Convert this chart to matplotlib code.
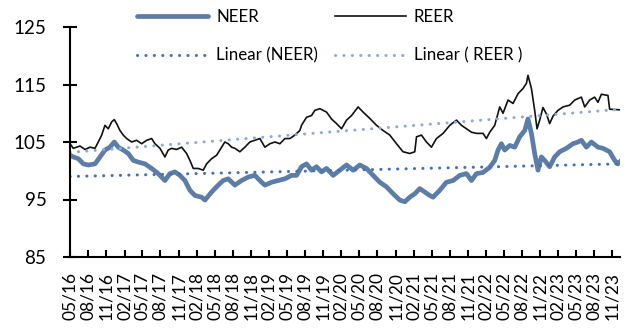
import numpy as np
import pandas as pd
import matplotlib
matplotlib.use("Agg")
import matplotlib.pyplot as plt
import matplotlib.dates as mdates

# ---------------- data (months since May 2016, index values) ----------------
reer_month = [0.0, 0.55, 1.66, 2.49, 3.32, 4.15, 4.69, 5.26, 5.80, 6.35, 6.92, 7.35, 7.74,
              8.29, 8.84, 9.40, 10.23, 11.06, 11.89, 12.72, 13.55, 14.10, 14.93, 15.75,
              16.30, 16.87, 17.69, 18.52, 19.35, 19.90, 20.45, 21.28, 22.11, 22.67, 23.50,
              24.33, 25.16, 25.70, 26.25, 26.82, 27.36, 28.19, 29.02, 29.85, 30.68, 31.51,
              32.34, 33.17, 34.00, 34.83, 35.66, 36.48, 37.31, 38.14, 38.42, 39.25, 40.08,
              40.63, 41.46, 42.01, 42.57, 43.40, 44.23, 45.06, 45.89, 46.72, 47.81, 48.64,
              49.75, 50.86, 51.96, 53.07, 54.18, 55.27, 56.38, 57.21, 57.50, 58.32, 59.15,
              59.98, 60.81, 61.91, 63.02, 64.13, 64.96, 65.79, 66.62, 67.45, 68.54, 69.10,
              69.65, 70.48, 71.31, 71.86, 72.69, 73.52, 74.35, 75.17, 75.74, 76.00, 76.57,
              77.11, 77.50, 77.94, 78.49, 79.05, 79.60, 80.15, 80.98, 81.81, 82.92, 83.75,
              84.86, 85.41, 86.24, 87.06, 87.61, 88.18, 89.27, 89.55, 91.21]
reer = [104.7, 103.9, 104.3, 103.7, 104.1, 103.9, 105.0, 106.2, 107.9, 107.3, 108.5, 108.9, 108.2,
        107.0, 106.2, 105.6, 105.0, 105.3, 104.7, 105.3, 105.6, 104.7, 103.9, 102.4,
        103.6, 103.9, 103.7, 104.1, 103.0, 101.8, 100.4, 100.4, 100.1, 101.2, 102.1,
        102.7, 104.1, 105.0, 104.7, 104.1, 103.9, 103.3, 104.1, 105.0, 105.3, 105.6,
        104.1, 104.7, 105.0, 104.7, 105.6, 105.6, 106.2, 107.0, 107.9, 109.3, 109.6,
        110.5, 110.8, 110.5, 110.2, 109.0, 108.2, 107.3, 108.8, 109.6, 111.1, 110.2,
        109.1, 107.9, 107.0, 106.2, 104.7, 103.3, 103.0, 103.3, 105.9, 106.2, 105.0,
        104.1, 105.6, 106.5, 107.9, 108.8, 107.9, 107.3, 106.7, 106.5, 106.5, 105.6,
        106.7, 107.9, 111.1, 110.0, 112.3, 111.7, 113.4, 114.3, 115.2, 116.6, 114.3,
        110.5, 107.3, 108.8, 111.0, 109.9, 108.2, 109.5, 110.5, 111.1, 111.4, 112.3,
        112.8, 111.1, 112.3, 112.8, 111.9, 113.3, 113.1, 110.7, 110.6]

neer_month = [0.0, 0.55, 1.38, 2.21, 3.03, 4.15, 4.98, 5.80, 6.63, 7.35, 8.01, 8.84, 9.67,
              10.50, 11.33, 12.44, 13.55, 14.64, 15.75, 16.58, 17.41, 18.24, 19.07, 19.90,
              20.73, 21.84, 22.39, 23.50, 24.59, 25.42, 26.25, 27.36, 28.47, 29.57, 30.68,
              31.51, 32.34, 33.45, 34.54, 35.66, 36.77, 37.60, 38.42, 39.25, 40.08, 40.91,
              41.74, 42.57, 43.67, 44.78, 45.89, 46.98, 48.09, 49.20, 50.30, 51.41, 52.52,
              53.62, 54.73, 55.56, 56.38, 57.21, 58.04, 58.87, 59.70, 60.25, 61.36, 62.47,
              63.57, 64.68, 65.79, 66.62, 67.45, 68.54, 69.65, 70.48, 71.03, 71.59, 72.14,
              72.97, 73.80, 74.63, 75.46, 76.00, 76.57, 77.11, 77.66, 78.22, 78.77, 79.60,
              80.43, 81.26, 82.37, 83.47, 84.30, 84.86, 85.69, 86.52, 87.61, 88.44, 89.55,
              90.38, 90.93, 91.49]
neer = [102.7, 102.4, 102.1, 101.2, 101.0, 101.2, 102.4, 103.6, 104.1, 105.0, 104.1, 103.6, 103.0,
        101.8, 101.5, 101.2, 100.4, 99.5, 98.3, 99.5, 99.8, 99.2, 98.3, 96.6,
        95.7, 95.4, 94.9, 96.3, 97.5, 98.3, 98.6, 97.5, 98.3, 98.9, 99.2,
        98.3, 97.5, 98.0, 98.3, 98.6, 99.2, 99.2, 100.7, 101.2, 100.1, 100.7,
        99.8, 100.4, 99.2, 100.1, 101.0, 100.1, 101.0, 100.4, 99.2, 98.0, 97.2,
        96.0, 94.9, 94.6, 95.4, 96.0, 96.9, 96.3, 95.7, 95.4, 96.6, 98.0,
        98.3, 99.2, 99.5, 98.3, 99.5, 99.7, 100.6, 101.8, 103.6, 104.7, 103.6,
        104.4, 104.1, 105.9, 107.0, 109.0, 106.5, 103.0, 100.1, 102.4, 101.8, 100.7,
        102.4, 103.3, 103.9, 104.7, 105.0, 105.3, 104.1, 105.0, 104.1, 103.9, 103.3,
        101.8, 101.2, 101.8]

# linear trend lines (start / end values)
trend_month = [0.0, 91.5]
trend_neer = [99.0, 101.2]
trend_reer = [103.2, 110.7]

labels = ["NEER", "REER", "Linear (NEER)", "Linear ( REER )"]

start = pd.Timestamp("2016-05-01")


def to_dates(months):
    return start + pd.to_timedelta(np.array(months) * 30.4375, unit="D")


tick_dates = pd.date_range("2016-05-01", "2023-11-01", freq="3MS")
tick_labels = [d.strftime("%m/%y") for d in tick_dates]

# ---------------- figure ----------------
plt.rcParams["font.family"] = ["Lato", "DejaVu Sans"]
fig = plt.figure(figsize=(6.28, 3.29), dpi=100)
ax = fig.add_axes([70 / 628, 1 - 257 / 329, 550 / 628, 230 / 329])

c_neer = "#5C7DA8"
c_tn = "#4672B4"
c_tr = "#8FAADA"

l1, = ax.plot(to_dates(neer_month), neer, color=c_neer, lw=3.4, solid_capstyle="round",
              solid_joinstyle="round", label=labels[0])
l2, = ax.plot(to_dates(reer_month), reer, color="#111111", lw=1.2, label=labels[1])
l3, = ax.plot(to_dates(trend_month), trend_neer, color=c_tn, lw=2.2,
              linestyle=(0, (0.05, 2.7)), dash_capstyle="round", label=labels[2])
l4, = ax.plot(to_dates(trend_month), trend_reer, color=c_tr, lw=2.2,
              linestyle=(0, (0.05, 2.7)), dash_capstyle="round", label=labels[3])

ax.set_ylim(85, 125)
ax.set_yticks([85, 95, 105, 115, 125])
ax.set_xlim(start, start + pd.Timedelta(days=int(91.3 * 30.4375)))
ax.set_xticks(tick_dates)
ax.set_xticklabels(tick_labels, rotation=90)

for s in ["top", "right"]:
    ax.spines[s].set_visible(False)
for s in ["left", "bottom"]:
    ax.spines[s].set_linewidth(1.5)
    ax.spines[s].set_color("black")

ax.tick_params(axis="y", direction="inout", length=10, width=1.5, labelsize=13.5, pad=12)
ax.tick_params(axis="x", direction="in", length=5, width=1.5, labelsize=12.5, pad=11)

fig.legend(handles=[l1, l3, l2, l4], labels=[labels[0], labels[2], labels[1], labels[3]],
           ncol=2, frameon=False, loc="upper left", bbox_to_anchor=(128 / 628, 1.0),
           fontsize=12.2, handlelength=4.2, handletextpad=0.45, columnspacing=1.0,
           labelspacing=1.3, borderaxespad=0.15)

fig.savefig("out.png", dpi=100)
